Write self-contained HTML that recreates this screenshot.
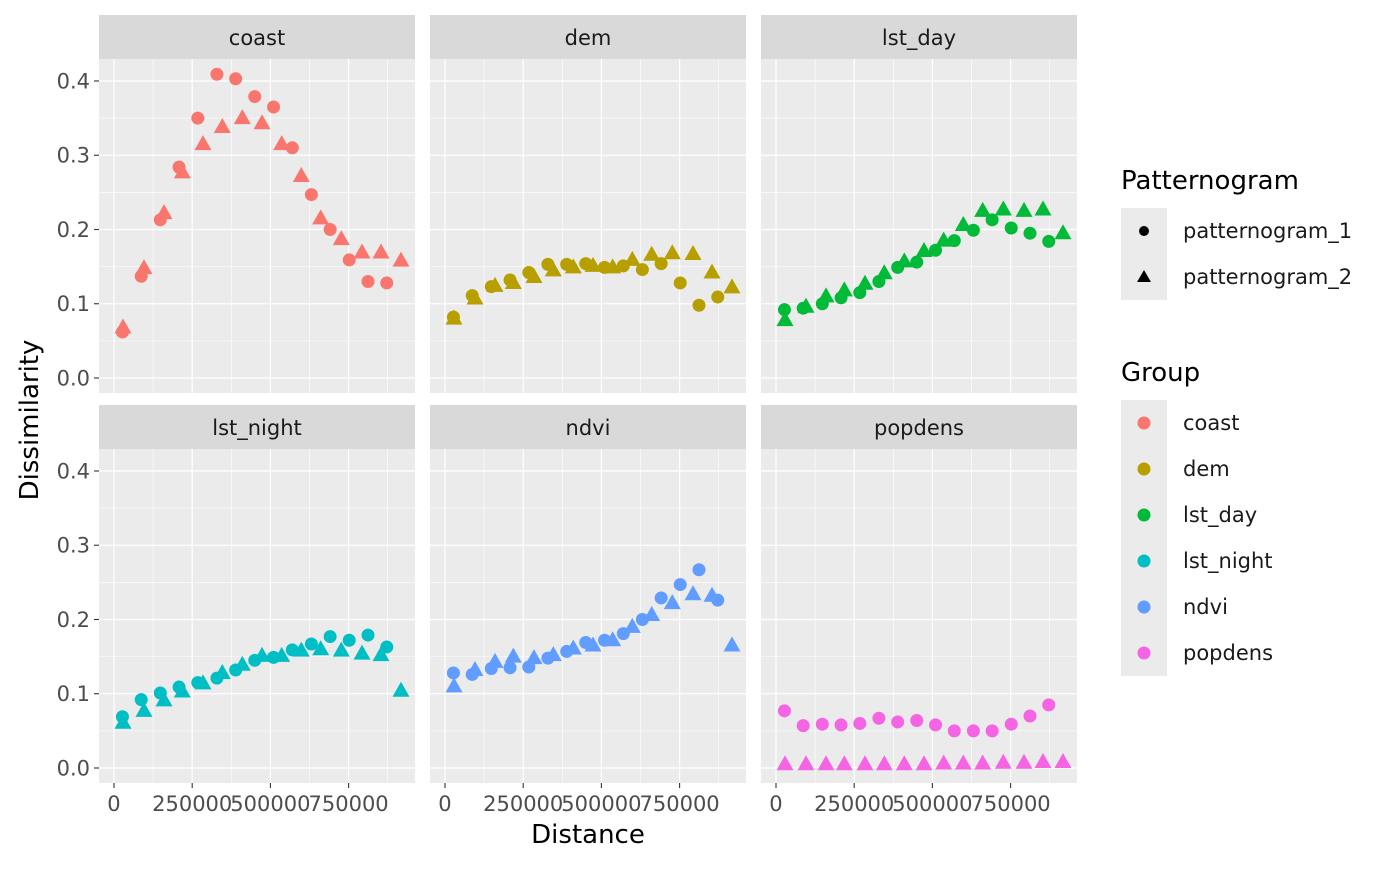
<!DOCTYPE html>
<html><head><meta charset="utf-8">
<style>
body{margin:0;background:#fff;}
svg text{font-family:"DejaVu Sans","Liberation Sans",sans-serif;}
</style></head>
<body>
<svg id="chart" width="1400" height="865" xmlns="http://www.w3.org/2000/svg">
<rect width="1400" height="865" fill="#fff"/>
<g id="panels"></g>
<text x="38" y="420" transform="rotate(-90 38 420)" text-anchor="middle" font-size="26" fill="#000">Dissimilarity</text>
<text x="588" y="843" text-anchor="middle" font-size="26" fill="#000">Distance</text>
<g id="legend">
<text x="1121" y="189" font-size="26" fill="#000">Patternogram</text>
<g>
<rect x="1121" y="208" width="46" height="46" fill="#EBEBEB"/>
<circle cx="1144" cy="231" r="5" fill="#000"/>
<text x="1183" y="238" font-size="21" fill="#1A1A1A">patternogram_1</text></g>
<g>
<rect x="1121" y="254" width="46" height="46" fill="#EBEBEB"/>
<polygon points="1144,270 1151,282 1137,282" fill="#000"/>
<text x="1183" y="284" font-size="21" fill="#1A1A1A">patternogram_2</text></g>
<text x="1121" y="381" font-size="26" fill="#000">Group</text>
<g id="groupLegend"></g>
</g>
</svg>
<script>
const groups = ["coast","dem","lst_day","lst_night","ndvi","popdens"];
const colors = ["#F8766D","#B79F00","#00BA38","#00BFC4","#619CFF","#F564E3"];
const dist1 = [27000,87000,148000,208000,268000,329000,389000,450000,510000,570000,631000,691000,752000,812000,872000];
const dist2 = [28800,95900,159900,218400,284500,346200,410200,473200,536100,598800,660800,726700,792900,853600,917500];
const coast1 = [0.062,0.137,0.213,0.284,0.350,0.409,0.403,0.379,0.365,0.310,0.247,0.200,0.159,0.130,0.128];
const coast2 = [0.068,0.148,0.222,0.277,0.315,0.338,0.350,0.343,0.315,0.272,0.215,0.187,0.169,0.169,0.158];
const dem1 = [0.082,0.111,0.123,0.132,0.142,0.153,0.153,0.154,0.149,0.151,0.146,0.154,0.128,0.098,0.109];
const dem2 = [0.080,0.107,0.124,0.128,0.136,0.145,0.149,0.151,0.149,0.159,0.166,0.168,0.167,0.142,0.122];
const lstday1 = [0.092,0.094,0.100,0.108,0.115,0.130,0.149,0.156,0.172,0.185,0.199,0.213,0.202,0.195,0.184];
const lstday2 = [0.078,0.096,0.110,0.118,0.127,0.141,0.157,0.171,0.185,0.206,0.225,0.227,0.225,0.227,0.195];
const lstnight1 = [0.069,0.092,0.101,0.109,0.115,0.121,0.132,0.145,0.149,0.159,0.167,0.177,0.172,0.179,0.163];
const lstnight2 = [0.061,0.077,0.091,0.103,0.114,0.128,0.139,0.151,0.151,0.158,0.160,0.158,0.154,0.152,0.104];
const ndvi1 = [0.128,0.126,0.134,0.135,0.136,0.148,0.157,0.169,0.172,0.181,0.200,0.229,0.247,0.267,0.226];
const ndvi2 = [0.110,0.132,0.143,0.150,0.148,0.152,0.161,0.165,0.172,0.190,0.206,0.222,0.234,0.232,0.165];
const popdens1 = [0.077,0.057,0.059,0.058,0.060,0.067,0.062,0.064,0.058,0.050,0.050,0.050,0.059,0.070,0.085];
const popdens2 = [0.005,0.005,0.005,0.005,0.005,0.005,0.005,0.005,0.006,0.006,0.006,0.007,0.007,0.008,0.008];
const series1 = [coast1,dem1,lstday1,lstnight1,ndvi1,popdens1];
const series2 = [coast2,dem2,lstday2,lstnight2,ndvi2,popdens2];
const yTicks = [0,0.1,0.2,0.3,0.4];
const yTickLabels = ["0.0","0.1","0.2","0.3","0.4"];
const xTicks = [0,250000,500000,750000];
const xTickLabels = ["0","250000","500000","750000"];

const NS="http://www.w3.org/2000/svg";
function mk(tag,attrs,parent){const e=document.createElementNS(NS,tag);for(const k in attrs)e.setAttribute(k,attrs[k]);parent.appendChild(e);return e;}
const colX=[99,430,761], rowY=[59,449], PW=316, PH=334;
const xMin=-47950, xMax=962300, yMin=-0.0202, yMax=0.4296;
function sx(v,c){return colX[c]+(v-xMin)/(xMax-xMin)*PW;}
function sy(v,r){return rowY[r]+PH-(v-yMin)/(yMax-yMin)*PH;}
const panels=document.getElementById('panels');
groups.forEach((g,i)=>{
  const c=i%3, r=Math.floor(i/3);
  const pg=mk('g',{},panels);
  
  
  const strip=mk('rect',{x:colX[c],y:rowY[r]-44,width:PW,height:44,fill:'#D9D9D9'},pg);
  
  
  const st=mk('text',{x:colX[c]+PW/2,y:rowY[r]-14,'text-anchor':'middle','font-size':'21',fill:'#1A1A1A'},pg);
  st.textContent=g;
  
  
  const bg=mk('rect',{x:colX[c],y:rowY[r],width:PW,height:PH,fill:'#EBEBEB'},pg);
  
  
  for(let k=0;k<yTicks.length-1;k++){const yy=sy((yTicks[k]+yTicks[k+1])/2,r);
    const l=mk('line',{x1:colX[c],x2:colX[c]+PW,y1:yy,y2:yy,stroke:'#fff','stroke-width':0.6},pg);
    
    }
  for(let k=0;k<xTicks.length;k++){const xx=sx(xTicks[k]+125000,c);
    const l=mk('line',{x1:xx,x2:xx,y1:rowY[r],y2:rowY[r]+PH,stroke:'#fff','stroke-width':0.6},pg);
    
    }
  yTicks.forEach((t,k)=>{const yy=sy(t,r);
    const l=mk('line',{x1:colX[c],x2:colX[c]+PW,y1:yy,y2:yy,stroke:'#fff','stroke-width':1.2},pg);
    
    
    if(c===0){
      const tk=mk('line',{x1:colX[c]-5,x2:colX[c],y1:yy,y2:yy,stroke:'#333','stroke-width':1.1},pg);
      
      
      const tl=mk('text',{x:colX[c]-9,y:yy+7.5,'text-anchor':'end','font-size':'21',fill:'#4D4D4D'},pg);
      tl.textContent=yTickLabels[k];
      
      
    }});
  xTicks.forEach((t,k)=>{const xx=sx(t,c);
    const l=mk('line',{x1:xx,x2:xx,y1:rowY[r],y2:rowY[r]+PH,stroke:'#fff','stroke-width':1.2},pg);
    
    
    if(r===1){
      const tk=mk('line',{x1:xx,x2:xx,y1:rowY[r]+PH,y2:rowY[r]+PH+5,stroke:'#333','stroke-width':1.1},pg);
      
      
      const tl=mk('text',{x:xx,y:rowY[r]+PH+28,'text-anchor':'middle','font-size':'21',fill:'#4D4D4D'},pg);
      tl.textContent=xTickLabels[k];
      
      
    }});
  series1[i].forEach((v,k)=>{
    const p=mk('circle',{cx:sx(dist1[k],c),cy:sy(v,r),r:6.5,fill:colors[i]},pg);
    
    });
  series2[i].forEach((v,k)=>{
    const x=sx(dist2[k],c), y=sy(v,r);
    const p=mk('polygon',{points:`${x},${y-9} ${x+8.5},${y+6} ${x-8.5},${y+6}`,fill:colors[i]},pg);
    
    });
});
const gl=document.getElementById('groupLegend');
groups.forEach((g,i)=>{
  const e=mk('g',{},gl);
  
  
  const y0=400+46*i;
  const k=mk('rect',{x:1121,y:y0,width:46,height:46,fill:'#EBEBEB'},e);
  
  
  const c=mk('circle',{cx:1144,cy:y0+23,r:6.5,fill:colors[i]},e);
  
  
  const t=mk('text',{x:1183,y:y0+30,'font-size':'21',fill:'#1A1A1A'},e);
  t.textContent=g;
  
  
});
</script>
</body></html>
